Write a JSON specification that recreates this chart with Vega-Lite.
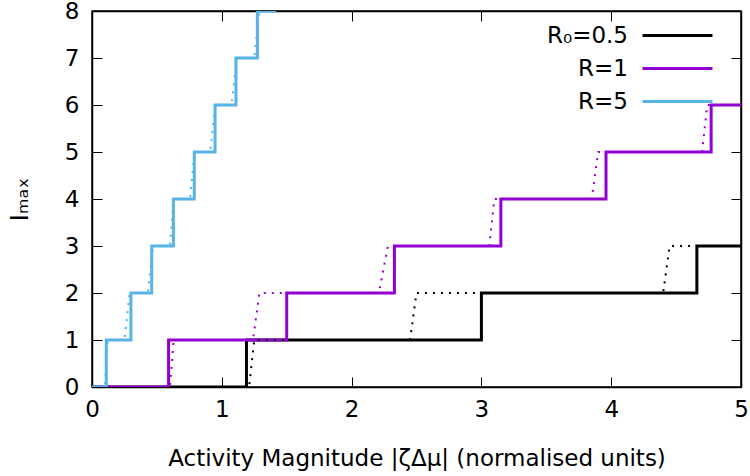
{
  "$schema": "https://vega.github.io/schema/vega-lite/v6.json",
  "width": 649,
  "height": 376,
  "autosize": {"type": "none"},
  "padding": {"left": 92, "top": 11, "right": 9, "bottom": 89},
  "config": {
    "font": "DejaVu Sans",
    "view": {"stroke": "black", "strokeWidth": 1.5},
    "axis": {
      "grid": false,
      "tickSize": -10,
      "tickColor": "black",
      "tickWidth": 1,
      "domainColor": "black",
      "domainWidth": 1.5,
      "labelFontSize": 23,
      "labelColor": "black",
      "labelFlush": false,
      "titleFontSize": 23,
      "titleFontWeight": "normal",
      "titleColor": "black"
    },
    "legend": {"padding": 0}
  },
  "datasets": {
    "solid": [
      {"series": "R₀=0.5", "x": 0, "y": 0},
      {"series": "R₀=0.5", "x": 1.19, "y": 1},
      {"series": "R₀=0.5", "x": 3.0, "y": 2},
      {"series": "R₀=0.5", "x": 4.66, "y": 3},
      {"series": "R₀=0.5", "x": 5, "y": 3},
      {"series": "R=1", "x": 0, "y": 0},
      {"series": "R=1", "x": 0.59, "y": 1},
      {"series": "R=1", "x": 1.5, "y": 2},
      {"series": "R=1", "x": 2.33, "y": 3},
      {"series": "R=1", "x": 3.15, "y": 4},
      {"series": "R=1", "x": 3.96, "y": 5},
      {"series": "R=1", "x": 4.77, "y": 6},
      {"series": "R=1", "x": 5, "y": 6},
      {"series": "R=5", "x": 0, "y": 0},
      {"series": "R=5", "x": 0.11, "y": 1},
      {"series": "R=5", "x": 0.3, "y": 2},
      {"series": "R=5", "x": 0.46, "y": 3},
      {"series": "R=5", "x": 0.627, "y": 4},
      {"series": "R=5", "x": 0.788, "y": 5},
      {"series": "R=5", "x": 0.948, "y": 6},
      {"series": "R=5", "x": 1.109, "y": 7},
      {"series": "R=5", "x": 1.274, "y": 8},
      {"series": "R=5", "x": 1.42, "y": 8}
    ],
    "dotted": [
      {"series": "R₀=0.5", "x": 0, "y": 0},
      {"series": "R₀=0.5", "x": 1.21, "y": 0},
      {"series": "R₀=0.5", "x": 1.25, "y": 1},
      {"series": "R₀=0.5", "x": 2.45, "y": 1},
      {"series": "R₀=0.5", "x": 2.5, "y": 2},
      {"series": "R₀=0.5", "x": 4.4, "y": 2},
      {"series": "R₀=0.5", "x": 4.45, "y": 3},
      {"series": "R₀=0.5", "x": 5, "y": 3},
      {"series": "R=1", "x": 0, "y": 0},
      {"series": "R=1", "x": 0.6, "y": 0},
      {"series": "R=1", "x": 0.63, "y": 1},
      {"series": "R=1", "x": 1.24, "y": 1},
      {"series": "R=1", "x": 1.29, "y": 2},
      {"series": "R=1", "x": 2.21, "y": 2},
      {"series": "R=1", "x": 2.28, "y": 3},
      {"series": "R=1", "x": 3.06, "y": 3},
      {"series": "R=1", "x": 3.1, "y": 4},
      {"series": "R=1", "x": 3.85, "y": 4},
      {"series": "R=1", "x": 3.9, "y": 5},
      {"series": "R=1", "x": 4.7, "y": 5},
      {"series": "R=1", "x": 4.74, "y": 6},
      {"series": "R=1", "x": 5, "y": 6},
      {"series": "R=5", "x": 0, "y": 0},
      {"series": "R=5", "x": 0.1, "y": 0},
      {"series": "R=5", "x": 0.12, "y": 1},
      {"series": "R=5", "x": 0.25, "y": 1},
      {"series": "R=5", "x": 0.29, "y": 2},
      {"series": "R=5", "x": 0.43, "y": 2},
      {"series": "R=5", "x": 0.47, "y": 3},
      {"series": "R=5", "x": 0.6, "y": 3},
      {"series": "R=5", "x": 0.63, "y": 4},
      {"series": "R=5", "x": 0.755, "y": 4},
      {"series": "R=5", "x": 0.79, "y": 5},
      {"series": "R=5", "x": 0.91, "y": 5},
      {"series": "R=5", "x": 0.95, "y": 6},
      {"series": "R=5", "x": 1.075, "y": 6},
      {"series": "R=5", "x": 1.115, "y": 7},
      {"series": "R=5", "x": 1.25, "y": 7},
      {"series": "R=5", "x": 1.29, "y": 8}
    ]
  },
  "layer": [
    {
      "data": {"name": "solid"},
      "mark": {"type": "line", "interpolate": "step-after", "strokeWidth": 3, "clip": true},
      "encoding": {
        "x": {"field": "x", "type": "quantitative", "scale": {"domain": [0, 5], "nice": false},
          "axis": {"orient": "bottom", "title": "Activity Magnitude |ζΔμ| (normalised units)", "values": [0, 1, 2, 3, 4, 5], "format": "d", "labelPadding": 21.5, "titlePadding": 26}},
        "y": {"field": "y", "type": "quantitative", "scale": {"domain": [0, 8], "nice": false},
          "axis": {"orient": "left", "title": "Iₘₐₓ", "titleFontSize": 25, "values": [0, 1, 2, 3, 4, 5, 6, 7, 8], "format": "d", "labelPadding": 23, "titlePadding": 32}},
        "color": {"field": "series", "type": "nominal",
          "scale": {"domain": ["R₀=0.5", "R=1", "R=5"], "range": ["#000000", "#9400d3", "#56b4e9"]},
          "legend": {"title": null, "orient": "none", "legendX": 572, "legendY": 11,
            "symbolType": "M-3,0H3", "symbolSize": 544, "symbolStrokeWidth": 3,
            "labelFontSize": 23, "labelColor": "black", "labelAlign": "right", "labelOffset": -63, "rowPadding": 7}}
      }
    },
    {
      "data": {"name": "dotted"},
      "mark": {"type": "line", "strokeWidth": 2, "strokeDash": [2, 6], "clip": true},
      "encoding": {
        "x": {"field": "x", "type": "quantitative", "axis": {"orient": "top", "title": null, "labels": false, "values": [0, 1, 2, 3, 4, 5]}},
        "y": {"field": "y", "type": "quantitative", "axis": {"orient": "right", "title": null, "labels": false, "values": [0, 1, 2, 3, 4, 5, 6, 7, 8]}},
        "color": {"field": "series", "type": "nominal", "legend": null}
      }
    }
  ],
  "resolve": {"axis": {"x": "independent", "y": "independent"}}
}
